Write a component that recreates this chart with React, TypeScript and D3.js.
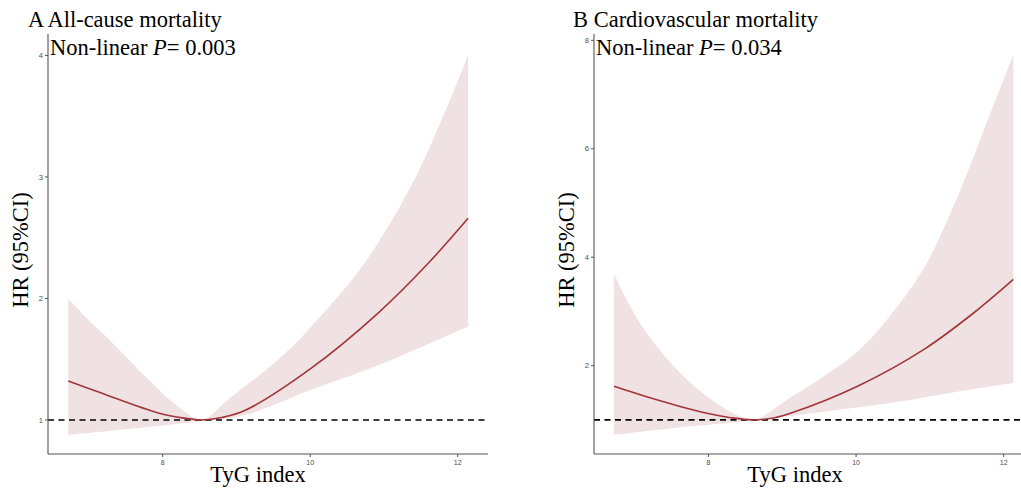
import React from "react";
import * as d3 from "d3";

// Panel A: All-cause mortality
const aX = [6.72, 7.31, 7.99, 8.3, 8.53, 8.8, 9.12, 10.0, 10.92, 11.6, 12.14];
const aHR = [1.32, 1.19, 1.05, 1.015, 1.0, 1.02, 1.08, 1.42, 1.88, 2.29, 2.66];
const aUpperX = [6.72, 7.0, 7.31, 7.76, 8.21, 8.53, 8.89, 9.57, 10.0, 10.7, 11.38, 11.83, 12.14];
const aUpper = [2.0, 1.82, 1.64, 1.36, 1.11, 1.0, 1.17, 1.5, 1.76, 2.26, 2.94, 3.54, 4.0];
const aLowerX = [6.72, 7.76, 8.53, 9.12, 10.02, 10.92, 12.14];
const aLower = [0.877, 0.94, 0.99, 1.04, 1.25, 1.45, 1.77];

// Panel B: Cardiovascular mortality
const bX = [6.72, 7.3, 7.98, 8.3, 8.6, 8.9, 9.11, 10.02, 10.92, 11.6, 12.13];
const bHR = [1.62, 1.37, 1.12, 1.04, 1.0, 1.04, 1.12, 1.62, 2.3, 2.98, 3.59];
const bUpperX = [6.72, 7.07, 7.53, 7.98, 8.43, 8.62, 9.11, 9.56, 10.02, 10.46, 10.92, 11.37, 11.82, 12.13];
const bUpper = [3.69, 2.79, 1.99, 1.43, 1.06, 1.0, 1.41, 1.8, 2.26, 2.92, 3.8, 5.1, 6.66, 7.73];
const bLowerX = [6.72, 7.75, 8.6, 9.56, 10.46, 11.37, 12.13];
const bLower = [0.72, 0.88, 0.99, 1.15, 1.31, 1.52, 1.68];

const xTicks = [8, 10, 12];
const aYTicks = [1, 2, 3, 4];
const bYTicks = [2, 4, 6, 8];

const RIBBON = "#f0e1e2";
const LINE = "#a1353a";
const AXIS = "#555555";
const TICKTXT = "#4d4d4d";
const SERIF = "'Liberation Serif', 'Times New Roman', serif";

type PanelProps = {
  left: number; right: number; top: number; bottom: number;
  xDomain: [number, number]; yDomain: [number, number];
  xs: number[]; hr: number[]; ux: number[]; up: number[]; lx: number[]; lo: number[];
  yTicks: number[]; title: string; pval: string;
  titleX: number; yTitleX: number; xTitleX: number;
};

function reversePath(d: string): string {
  const segs = d.match(/[MLC][^MLC]*/g) || [];
  const cmds = segs.map(s => ({ type: s[0], nums: s.slice(1).split(/[ ,]+/).filter(v => v.length).map(Number) }));
  let cur: number[] = [];
  const list: { type: string; from: number[]; c1?: number[]; c2?: number[]; to: number[] }[] = [];
  cmds.forEach(c => {
    if (c.type === "M") { cur = [c.nums[0], c.nums[1]]; }
    else if (c.type === "L") { list.push({ type: "L", from: cur, to: [c.nums[0], c.nums[1]] }); cur = [c.nums[0], c.nums[1]]; }
    else if (c.type === "C") { const to = [c.nums[4], c.nums[5]]; list.push({ type: "C", from: cur, c1: [c.nums[0], c.nums[1]], c2: [c.nums[2], c.nums[3]], to }); cur = to; }
  });
  let out = "";
  for (let i = list.length - 1; i >= 0; i--) {
    const s = list[i];
    if (s.type === "L") out += `L${s.from[0]},${s.from[1]}`;
    else out += `C${s.c2![0]},${s.c2![1]},${s.c1![0]},${s.c1![1]},${s.from[0]},${s.from[1]}`;
  }
  return out;
}

function Panel(p: PanelProps) {
  const x = d3.scaleLinear().domain(p.xDomain).range([p.left, p.right]);
  const y = d3.scaleLinear().domain(p.yDomain).range([p.bottom, p.top]);
  const lineGen = d3.line<[number, number]>().curve(d3.curveCatmullRom.alpha(0.5));
  const upPts = p.ux.map((v, i) => [x(v), y(p.up[i])] as [number, number]);
  const loPts = p.lx.map((v, i) => [x(v), y(p.lo[i])] as [number, number]);
  const upPath = lineGen(upPts) || "";
  const loPath = lineGen(loPts) || "";
  const last = loPts[loPts.length - 1];
  const ribbon = upPath + "L" + last[0] + "," + last[1] + reversePath(loPath) + "Z";
  const curve = lineGen(p.xs.map((v, i) => [x(v), y(p.hr[i])] as [number, number])) || "";
  const axisRight = Math.min(p.right, 1021);
  return (
    <g>
      <path d={ribbon} fill={RIBBON} stroke="none" />
      <line x1={p.left} x2={axisRight} y1={y(1)} y2={y(1)} stroke="#000" strokeWidth={1.6} strokeDasharray="6,4.5" />
      <path d={curve} fill="none" stroke={LINE} strokeWidth={1.6} />
      <line x1={p.left} x2={p.left} y1={p.top - 2} y2={p.bottom} stroke={AXIS} strokeWidth={1.1} />
      <line x1={p.left} x2={axisRight} y1={p.bottom} y2={p.bottom} stroke={AXIS} strokeWidth={1.1} />
      {p.yTicks.map(t => (
        <g key={"y" + t}>
          <line x1={p.left - 3} x2={p.left} y1={y(t)} y2={y(t)} stroke={AXIS} strokeWidth={1} />
          <text x={p.left - 5} y={y(t)} dy="0.35em" textAnchor="end" fontSize={7.5} fill={TICKTXT} fontFamily="'Liberation Sans', Arial, sans-serif">{t}</text>
        </g>
      ))}
      {xTicks.map(t => (
        <g key={"x" + t}>
          <line x1={x(t)} x2={x(t)} y1={p.bottom} y2={p.bottom + 3} stroke={AXIS} strokeWidth={1} />
          <text x={x(t)} y={p.bottom + 11} textAnchor="middle" fontSize={7} fill={TICKTXT} fontFamily="'Liberation Sans', Arial, sans-serif">{t}</text>
        </g>
      ))}
      <text x={p.titleX} y={27} fontSize={22.5} fontFamily={SERIF} fill="#000">{p.title}</text>
      <text x={p.left + 2} y={55} fontSize={22.5} fontFamily={SERIF} fill="#000">
        Non-linear <tspan fontStyle="italic">P</tspan>= {p.pval}
      </text>
      <text x={p.xTitleX} y={482} textAnchor="middle" fontSize={22.5} fontFamily={SERIF} fill="#000">TyG index</text>
      <text transform={`translate(${p.yTitleX},${250}) rotate(-90)`} textAnchor="middle" fontSize={22.5} fontFamily={SERIF} fill="#000">HR (95%CI)</text>
    </g>
  );
}

export default function App() {
  return (
    <svg width={1021} height={488} style={{ position: "absolute", left: 0, top: 0, background: "#fff" }}>
      <rect width={1021} height={488} fill="#fff" />
      <Panel left={48} right={488} top={36} bottom={454} xDomain={[6.445, 12.41]} yDomain={[0.72, 4.16]}
        xs={aX} hr={aHR} ux={aUpperX} up={aUpper} lx={aLowerX} lo={aLower} yTicks={aYTicks}
        title="A All-cause mortality" pval="0.003" titleX={28} yTitleX={28} xTitleX={258} />
      <Panel left={594} right={1034} top={36} bottom={454} xDomain={[6.45, 12.41]} yDomain={[0.37, 8.08]}
        xs={bX} hr={bHR} ux={bUpperX} up={bUpper} lx={bLowerX} lo={bLower} yTicks={bYTicks}
        title="B Cardiovascular mortality" pval="0.034" titleX={573} yTitleX={574} xTitleX={795} />
    </svg>
  );
}
